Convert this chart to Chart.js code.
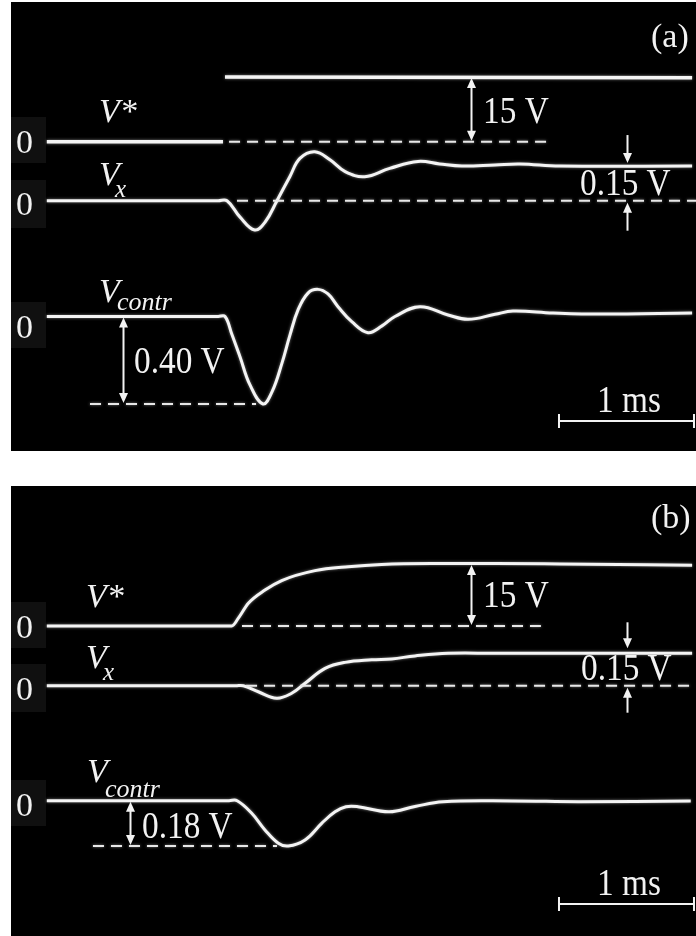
<!DOCTYPE html>
<html lang="en">
<head>
<meta charset="UTF-8">
<title>Step response traces</title>
<script src="https://cdn.jsdelivr.net/npm/chart.js"></script>
<style>
  body { margin: 0; background: #fff; width: 696px; height: 936px; position: relative; overflow: hidden; }
  .panel { position: absolute; left: 11px; background: #000; }
  .panel canvas { display: block; }
  #panelA { top: 2px; }
  #panelB { top: 486px; }
</style>
</head>
<body>
<div class="panel" id="panelA"><canvas id="chartA" width="685" height="449"></canvas></div>
<div class="panel" id="panelB"><canvas id="chartB" width="685" height="450"></canvas></div>

<script>
// time axis in ms, t = 0 at the step of V*

// (a) step reference
const vStarTimeA = [-1.32, -0.015, -0.008, 0, 3.46];
const vStarA = [0, 0, null, 15, 14.8];

const vxTimeA = [-1.32, -0.05, 0.015, 0.11, 0.22, 0.30, 0.385, 0.48, 0.555, 0.665, 0.78, 0.89, 1.035, 1.22, 1.43, 1.59, 1.755, 2.0, 2.185, 2.48, 3.46];
const vxA = [0, 0, 0, -0.07, -0.127, -0.09, 0, 0.104, 0.183, 0.212, 0.176, 0.126, 0.104, 0.140, 0.170, 0.159, 0.150, 0.155, 0.159, 0.150, 0.150];

const vcTimeA = [-1.32, -0.05, 0, 0.05, 0.111, 0.185, 0.281, 0.348, 0.422, 0.481, 0.541, 0.615, 0.689, 0.763, 0.837, 0.941, 1.059, 1.163, 1.259, 1.444, 1.652, 1.80, 2.0, 2.133, 2.43, 2.78, 3.46];
const vcA = [0, 0, 0, -0.08, -0.184, -0.313, -0.40, -0.345, -0.213, -0.085, 0.030, 0.107, 0.124, 0.103, 0.045, -0.025, -0.074, -0.043, 0, 0.045, 0.007, -0.013, 0.010, 0.025, 0.016, 0.011, 0.016];

// (b) smoothed reference
const vStarTimeB = [-1.32, 0.05, 0.099, 0.173, 0.296, 0.42, 0.667, 0.913, 1.16, 1.53, 2.0, 2.48, 3.46];
const vStarB = [0, 0, 1.9, 5.5, 8.7, 11.0, 13.4, 14.35, 14.9, 15.1, 15.1, 15.0, 14.7];

const vxTimeB = [-1.32, 0.08, 0.136, 0.247, 0.383, 0.494, 0.593, 0.741, 0.889, 1.087, 1.235, 1.407, 1.652, 2.0, 3.46];
const vxB = [0, 0, 0, -0.028, -0.058, -0.035, 0.011, 0.080, 0.108, 0.120, 0.124, 0.138, 0.150, 0.150, 0.150];

const vcTimeB = [-1.32, 0.03, 0.09, 0.198, 0.296, 0.395, 0.469, 0.593, 0.716, 0.815, 0.896, 0.985, 1.215, 1.407, 1.615, 2.133, 2.622, 3.45];
const vcB = [0, 0, 0, -0.050, -0.116, -0.169, -0.18, -0.156, -0.090, -0.044, -0.024, -0.024, -0.044, -0.023, -0.004, -0.001, -0.004, -0.001];

// dashed guides: [t start, t end] and level
const guideStarA = [0.03, 2.43];
const guideVxA = [0.089, 3.49];
const guideVcA = [-1.0, 0.23];
const vcMinA = -0.40;
const guideStarB = [0.126, 2.34];
const guideVxB = [0.156, 3.49];
const guideVcB = [-0.978, 0.385];
const vcMinB = -0.18;

const vxSettled = 0.15;
const vStarStep = 15;
const scaleBarMs = 1;

// pixel layout: 135 px per ms, step at x = 214 inside the panel
const pxPerMs = 135;
const stepPx = 214;

function pts(ts, vs) {
  return ts.map((t, i) => ({ x: t, y: vs[i] }));
}

function trace(label, ts, vs, axis, opts) {
  return Object.assign({
    label: label,
    data: pts(ts, vs),
    yAxisID: axis,
    borderColor: '#f4f4f4',
    borderWidth: 3,
    pointRadius: 0,
    tension: 0.4,
    spanGaps: false
  }, opts || {});
}

function guide(label, span, level, axis) {
  return {
    label: label,
    data: [{ x: span[0], y: level }, { x: span[1], y: level }],
    yAxisID: axis,
    borderColor: '#e8e8e8',
    borderWidth: 2,
    borderDash: [11, 7],
    pointRadius: 0
  };
}

// zero line at canvas y `zero`, `perVolt` pixels per unit
function yAxis(zero, perVolt, h) {
  return { type: 'linear', display: false, min: -(h - zero) / perVolt, max: zero / perVolt };
}

const serif = '"Liberation Serif", "Times New Roman", serif';

const scopeMarks = {
  id: 'scopeMarks',
  beforeDraw(chart, args, opts) {
    const ctx = chart.ctx;
    ctx.save();
    ctx.fillStyle = '#000';
    ctx.fillRect(0, 0, chart.width, chart.height);
    ctx.fillStyle = '#101010';
    opts.boxes.forEach(b => ctx.fillRect(b[0], b[1], b[2], b[3]));
    ctx.restore();
  },
  beforeDatasetsDraw(chart) {
    chart.ctx.save();
    chart.ctx.shadowColor = 'rgba(255,255,255,0.5)';
    chart.ctx.shadowBlur = 3;
  },
  afterDatasetsDraw(chart) {
    chart.ctx.restore();
  },
  afterDraw(chart, args, opts) {
    const ctx = chart.ctx;
    const xs = chart.scales.x;
    ctx.save();
    ctx.fillStyle = '#f2f2f2';
    ctx.strokeStyle = '#f2f2f2';
    ctx.lineWidth = 2;

    opts.texts.forEach(t => {
      ctx.save();
      ctx.font = (t.italic ? 'italic ' : '') + t.size + 'px ' + serif;
      ctx.translate(t.x, t.y);
      ctx.scale(t.sx || 1, 1);
      ctx.fillText(t.text, 0, 0);
      ctx.restore();
    });

    const head = (x, y, dir) => {
      // dir = 1 points down, -1 points up
      ctx.beginPath();
      ctx.moveTo(x, y);
      ctx.lineTo(x - 4.5, y - dir * 10);
      ctx.lineTo(x + 4.5, y - dir * 10);
      ctx.closePath();
      ctx.fill();
    };

    opts.spans.forEach(a => {
      const x = Math.round(xs.getPixelForValue(a.t)) + 0.5;
      const ys = chart.scales[a.axis];
      const y0 = ys.getPixelForValue(a.from) - 1;
      const y1 = ys.getPixelForValue(a.to) + 1;
      ctx.beginPath();
      ctx.moveTo(x, y0 - 8);
      ctx.lineTo(x, y1 + 8);
      ctx.stroke();
      head(x, y0, 1);
      head(x, y1, -1);
    });

    opts.pointers.forEach(a => {
      const x = Math.round(xs.getPixelForValue(a.t)) + 0.5;
      const tip = chart.scales[a.axis].getPixelForValue(a.v) - a.dir * a.gap;
      ctx.beginPath();
      ctx.moveTo(x, tip - a.dir * a.len);
      ctx.lineTo(x, tip - a.dir * 8);
      ctx.stroke();
      head(x, tip, a.dir);
    });

    const b = opts.bar;
    const x0 = xs.getPixelForValue(b.t);
    const x1 = xs.getPixelForValue(b.t + scaleBarMs);
    ctx.beginPath();
    ctx.moveTo(x0, b.y); ctx.lineTo(x1, b.y);
    ctx.moveTo(x0, b.y - 7); ctx.lineTo(x0, b.y + 7);
    ctx.moveTo(x1, b.y - 7); ctx.lineTo(x1, b.y + 7);
    ctx.stroke();
    ctx.restore();
  }
};

function makeChart(id, h, datasets, axes, marks) {
  const scales = {
    x: { type: 'linear', display: false, min: -stepPx / pxPerMs, max: (685 - stepPx) / pxPerMs }
  };
  Object.assign(scales, axes);
  return new Chart(document.getElementById(id), {
    type: 'line',
    data: { datasets: datasets },
    options: {
      responsive: false,
      animation: false,
      events: [],
      layout: { padding: 0 },
      scales: scales,
      plugins: { legend: { display: false }, tooltip: { enabled: false }, scopeMarks: marks }
    },
    plugins: [scopeMarks]
  });
}

const tScaleBar = 2.474;
const big = 37, narrow = 0.9;
const zeroSize = 34;

makeChart('chartA', 449, [
  guide('V* zero', guideStarA, 0, 'ys'),
  guide('Vx zero', guideVxA, 0, 'yx'),
  guide('Vcontr min', guideVcA, vcMinA, 'yc'),
  trace('V*', vStarTimeA, vStarA, 'ys', { tension: 0, borderWidth: 3.5 }),
  trace('Vx', vxTimeA, vxA, 'yx'),
  trace('Vcontr', vcTimeA, vcA, 'yc')
], {
  ys: yAxis(139.7, 4.313, 449),
  yx: yAxis(198.7, 231, 449),
  yc: yAxis(314.5, 218.75, 449)
}, {
  boxes: [[0, 115, 35, 46], [0, 178, 35, 48], [0, 300, 35, 46]],
  texts: [
    { text: '(a)', x: 640, y: 45, size: 34 },
    { text: '0', x: 5, y: 151, size: zeroSize },
    { text: '0', x: 5, y: 213, size: zeroSize },
    { text: '0', x: 5, y: 336, size: zeroSize },
    { text: 'V*', x: 88, y: 120, size: 34, italic: true },
    { text: 'V', x: 88, y: 183, size: 34, italic: true },
    { text: 'x', x: 104, y: 195, size: 25, italic: true },
    { text: 'V', x: 88, y: 300, size: 34, italic: true },
    { text: 'contr', x: 106, y: 308, size: 26, italic: true },
    { text: '15 V', x: 472, y: 121, size: big, sx: narrow },
    { text: '0.15 V', x: 569, y: 193, size: big, sx: narrow },
    { text: '0.40 V', x: 123, y: 371, size: big, sx: narrow },
    { text: '1 ms', x: 586, y: 410, size: big, sx: narrow }
  ],
  spans: [
    { t: 1.822, axis: 'ys', from: 0, to: vStarStep },
    { t: -0.756, axis: 'yc', from: vcMinA, to: 0 }
  ],
  pointers: [
    { t: 2.978, axis: 'yx', v: vxSettled, dir: 1, gap: 3, len: 28 },
    { t: 2.978, axis: 'yx', v: 0, dir: -1, gap: 2, len: 28 }
  ],
  bar: { t: tScaleBar, y: 419 }
});

makeChart('chartB', 450, [
  guide('V* zero', guideStarB, 0, 'ys'),
  guide('Vx zero', guideVxB, 0, 'yx'),
  guide('Vcontr min', guideVcB, vcMinB, 'yc'),
  trace('V*', vStarTimeB, vStarB, 'ys', { tension: 0, cubicInterpolationMode: 'monotone' }),
  trace('Vx', vxTimeB, vxB, 'yx'),
  trace('Vcontr', vcTimeB, vcB, 'yc')
], {
  ys: yAxis(140, 4.133, 450),
  yx: yAxis(199.7, 216, 450),
  yc: yAxis(314.7, 251.7, 450)
}, {
  boxes: [[0, 116, 35, 46], [0, 178, 35, 48], [0, 294, 35, 46]],
  texts: [
    { text: '(b)', x: 640, y: 42, size: 34 },
    { text: '0', x: 5, y: 152, size: zeroSize },
    { text: '0', x: 5, y: 214, size: zeroSize },
    { text: '0', x: 5, y: 330, size: zeroSize },
    { text: 'V*', x: 75, y: 121, size: 34, italic: true },
    { text: 'V', x: 75, y: 182, size: 34, italic: true },
    { text: 'x', x: 92, y: 194, size: 25, italic: true },
    { text: 'V', x: 76, y: 296, size: 34, italic: true },
    { text: 'contr', x: 94, y: 311, size: 26, italic: true },
    { text: '15 V', x: 472, y: 121, size: big, sx: narrow },
    { text: '0.15 V', x: 570, y: 194, size: big, sx: narrow },
    { text: '0.18 V', x: 131, y: 352, size: big, sx: narrow },
    { text: '1 ms', x: 586, y: 409, size: big, sx: narrow }
  ],
  spans: [
    { t: 1.822, axis: 'ys', from: 0, to: vStarStep },
    { t: -0.704, axis: 'yc', from: vcMinB, to: 0 }
  ],
  pointers: [
    { t: 2.978, axis: 'yx', v: vxSettled, dir: 1, gap: 5, len: 26 },
    { t: 2.978, axis: 'yx', v: 0, dir: -1, gap: 2, len: 25 }
  ],
  bar: { t: tScaleBar, y: 418 }
});
</script>
</body>
</html>
